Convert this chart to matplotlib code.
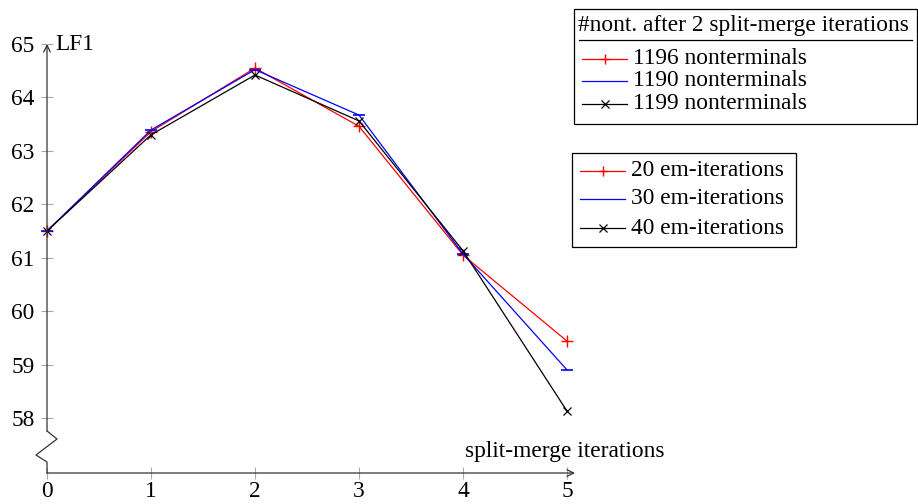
import numpy as np
import matplotlib
matplotlib.use("Agg")
import matplotlib.pyplot as plt
from matplotlib.lines import Line2D
from matplotlib.patches import Rectangle

# data
iters = [0, 1, 2, 3, 4, 5]
lf1_1196 = [61.5, 63.36, 64.55, 63.46, 61.05, 59.44]
lf1_1190 = [61.5, 63.39, 64.52, 63.67, 61.07, 58.90]
lf1_1199 = [61.5, 63.30, 64.42, 63.56, 61.13, 58.13]
yticks = [58, 59, 60, 61, 62, 63, 64, 65]

leg1_title = "#nont. after 2 split-merge iterations"
leg1_labels = ["1196 nonterminals", "1190 nonterminals", "1199 nonterminals"]
leg2_labels = ["20 em-iterations", "30 em-iterations", "40 em-iterations"]

plt.rcParams['font.family'] = ['Liberation Serif', 'DejaVu Serif']
FS = 16.8

W, H = 918, 504
fig = plt.figure(figsize=(W / 100, H / 100), dpi=100)

# axis box in pixel (top-left origin)
x0px, x5px = 47, 567
y65px, y58px, xaxis_px = 44, 418, 473
ppu = (y58px - y65px) / 7.0
ybot = 58 - (xaxis_px - y58px) / ppu

ax = fig.add_axes([x0px / W, (H - xaxis_px) / H, (x5px - x0px) / W, (xaxis_px - y65px) / H])
ax.set_xlim(0, 5)
ax.set_ylim(ybot, 65)
for s in ax.spines.values():
    s.set_visible(False)

styles = [dict(color='red', marker='+', ms=9, mew=1.0),
          dict(color='blue', marker='_', ms=8, mew=1.2),
          dict(color='black', marker='x', ms=6, mew=0.9)]
for ys, st in zip([lf1_1196, lf1_1190, lf1_1199], styles):
    ax.plot(iters, ys, lw=0.9, clip_on=False, zorder=3, **st)

ax.set_xticks(iters)
ax.set_yticks(yticks)
ax.tick_params(direction='inout', length=8, width=0.8, color='#aaaaaa',
               labelsize=FS, pad=5)
ax.tick_params(axis='x', pad=2)


def px2data(px, py):
    return ax.transData.inverted().transform((px, H - py))


axis_col = '#333333'
# x axis with arrow
xa0 = px2data(x0px, xaxis_px)
xa1 = px2data(575, xaxis_px)
ax.annotate('', xy=xa1, xytext=xa0, annotation_clip=False,
            arrowprops=dict(arrowstyle='->', color=axis_col, lw=0.9,
                            shrinkA=0, shrinkB=0, mutation_scale=12))
# y axis with break
zz = np.array([px2data(px, py) for px, py in
               [(x0px, xaxis_px), (x0px, 462), (36, 455), (57, 439), (x0px, 431)]])
ax.plot(zz[:, 0], zz[:, 1], color=axis_col, lw=0.9, clip_on=False)
ax.annotate('', xy=(0, 65), xytext=tuple(zz[-1]), annotation_clip=False,
            arrowprops=dict(arrowstyle='->', color=axis_col, lw=0.9,
                            shrinkA=0, shrinkB=0, mutation_scale=12))

fig.text(55 / W, 1 - 44 / H, "LF1", fontsize=FS, ha='left', va='center')
fig.text(565 / W, 1 - 452 / H, "split-merge iterations", fontsize=FS, ha='center', va='center')


def fpt(px, py):
    return (px / W, 1 - py / H)


def legend_box(left, top, right, bottom, rows_y, labels, title=None, title_y=None, rule_y=None):
    r = Rectangle(fpt(left, bottom), (right - left) / W, (bottom - top) / H,
                  transform=fig.transFigure, fill=False, ec='black', lw=0.9)
    fig.add_artist(r)
    if title is not None:
        fig.text((left + 4) / W, 1 - title_y / H, title, fontsize=FS, ha='left', va='center')
        fig.add_artist(Line2D([(left + 5) / W, (right - 5) / W], [1 - rule_y / H] * 2,
                              transform=fig.transFigure, color='black', lw=0.9))
    for yy, lab, st in zip(rows_y, labels, styles):
        fig.add_artist(Line2D([(left + 8) / W, (left + 53) / W], [1 - yy / H] * 2,
                              transform=fig.transFigure, color=st['color'], lw=0.9))
        if st['marker'] != '_':
            fig.add_artist(Line2D([(left + 30.5) / W], [1 - yy / H], transform=fig.transFigure,
                                  color=st['color'], marker=st['marker'],
                                  ms=st['ms'] * 0.85, mew=st['mew'], ls='none'))
        fig.text((left + 59) / W, 1 - yy / H, lab, fontsize=FS, ha='left', va='center')


legend_box(574, 9, 917, 124, [59, 81, 104], leg1_labels,
           title=leg1_title, title_y=25, rule_y=40)
legend_box(572, 153, 796, 247, [171, 199, 228], leg2_labels)

fig.savefig("out.png", dpi=100)
